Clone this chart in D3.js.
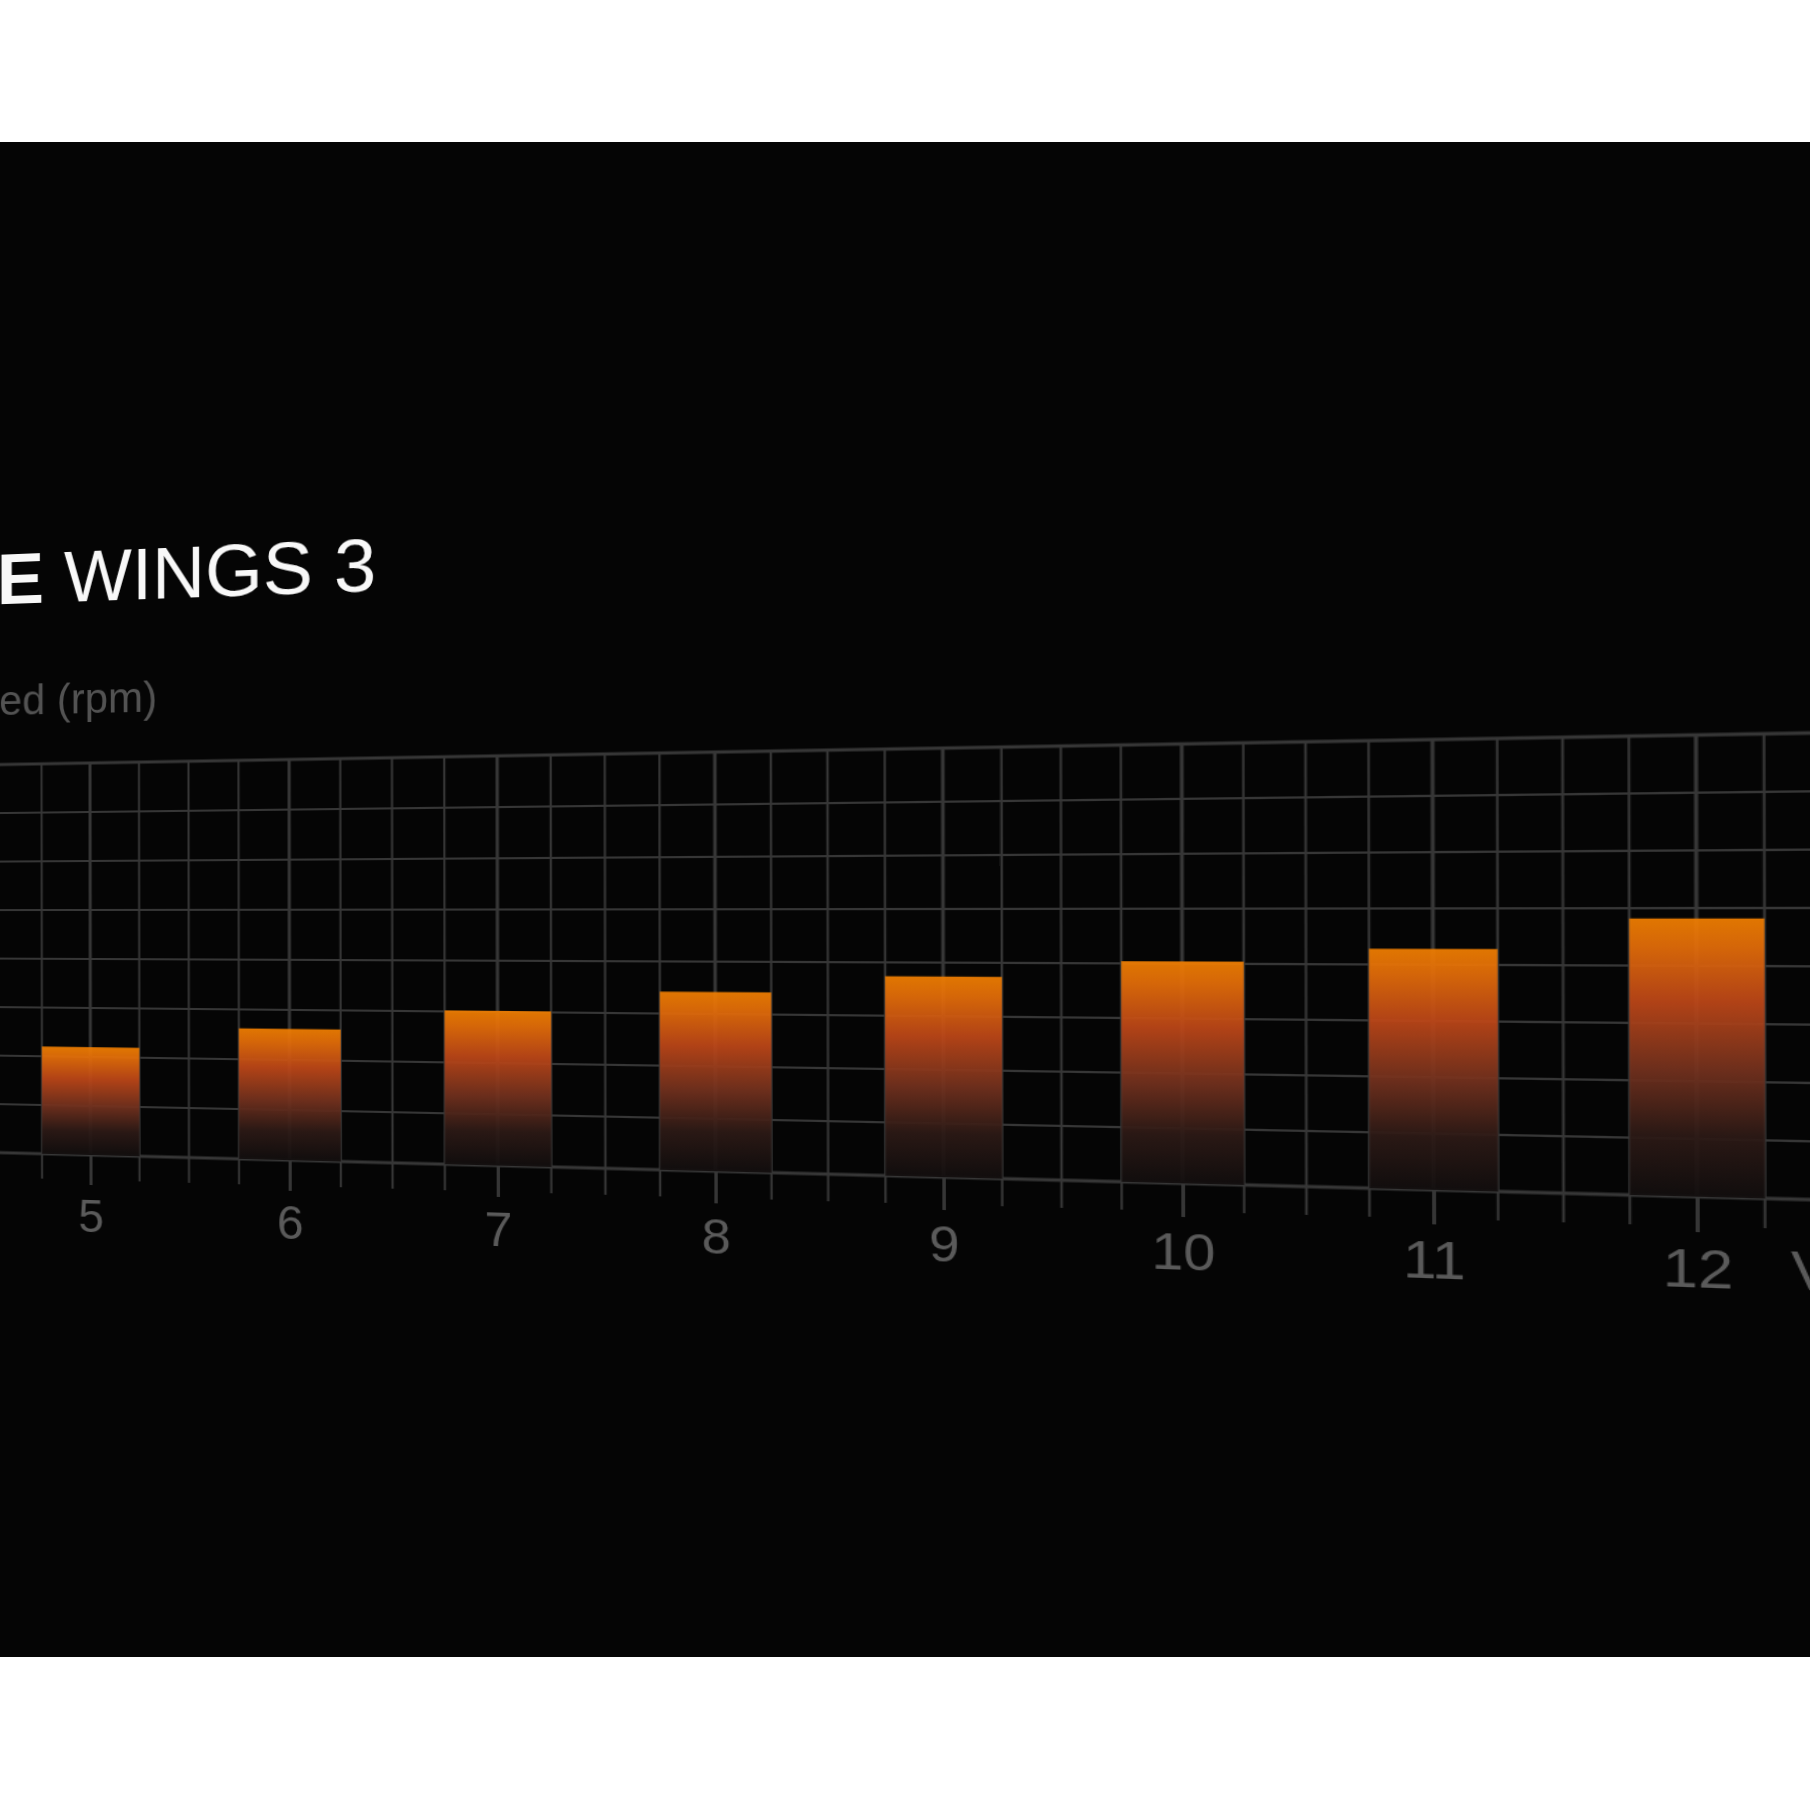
<!DOCTYPE html>
<html><head><meta charset="utf-8">
<script src="https://cdn.jsdelivr.net/npm/d3@7"></script>
<style>
html,body{margin:0;padding:0;background:#fff;width:1810px;height:1810px;overflow:hidden}
#bg{position:absolute;left:0;top:142px;width:1810px;height:1515px;background:#050505}
#plane{position:absolute;left:0;top:0;width:2000px;height:1400px;transform-origin:0 0}
svg text{font-family:"Liberation Sans",Arial,Helvetica,sans-serif}
</style></head><body>
<div id="bg"></div>
<div id="plane"></div>
<script>
// ---- data ----
const categories = [5, 6, 7, 8, 9, 10, 11, 12];
const xLabels = ["5", "6", "7", "8", "9", "10", "11", "12"];
const rpmValues = [110, 131, 151, 171, 187, 202, 214, 241];
const yTicks = [0, 50, 100, 150, 200, 250, 300, 350, 400];
const titleBold = "E";
const titleRest = " WINGS 3";
const subtitle = "ed (rpm)";
const xAxisTitle = "V";

// ---- flat chart scales ----
const xScale = d3.scaleLinear().domain([5, 12]).range([190, 1555]);
const yScale = d3.scaleLinear().domain([0, 400]).range([1155, 763]);
const gridExtent = [4.5, 12.5];

const svg = d3.select("#plane").append("svg")
  .attr("width", 2000).attr("height", 1400)
  .style("overflow", "visible");

const defs = svg.append("defs");
const grad = defs.append("linearGradient").attr("id", "barGrad")
  .attr("x1", 0).attr("y1", 0).attr("x2", 0).attr("y2", 1);
[[0, "#f07e00"], [0.1, "#e46d08"], [0.3, "#bd4617"], [0.55, "#72301d"], [0.78, "#2c1915"], [1, "#110d0d"]]
  .forEach(([o, c]) => grad.append("stop").attr("offset", o).attr("stop-color", c));

const gridColor = "#363636";
// horizontal grid lines
svg.append("g").selectAll("line").data(yTicks).join("line")
  .attr("x1", xScale(gridExtent[0])).attr("x2", xScale(gridExtent[1]))
  .attr("y1", d => yScale(d)).attr("y2", d => yScale(d))
  .attr("stroke", gridColor)
  .attr("stroke-width", d => (d === 0 || d === 400) ? 3 : 2);

// vertical grid lines (quarter steps)
const steps = d3.range(gridExtent[0], gridExtent[1] + 0.001, 0.25);
svg.append("g").selectAll("line").data(steps).join("line")
  .attr("x1", d => xScale(d)).attr("x2", d => xScale(d))
  .attr("y1", yScale(400))
  .attr("y2", d => Number.isInteger(d) ? yScale(0) : yScale(0) + 25)
  .attr("stroke", gridColor)
  .attr("stroke-width", d => Number.isInteger(d) ? 3 : 2);

// bars
svg.append("g").selectAll("rect").data(categories).join("rect")
  .attr("x", d => xScale(d - 0.25))
  .attr("width", d => xScale(d + 0.25) - xScale(d - 0.25))
  .attr("y", (d, i) => yScale(rpmValues[i]))
  .attr("height", (d, i) => yScale(0) - yScale(rpmValues[i]))
  .attr("fill", "url(#barGrad)")
  .attr("fill-opacity", 0.93);

// x axis
const axis = svg.append("g").attr("transform", `translate(0,${yScale(0)})`)
  .call(d3.axisBottom(xScale).tickValues(categories).tickSize(30).tickPadding(14)
    .tickFormat((d, i) => xLabels[i]));
axis.select(".domain").remove();
axis.selectAll(".tick line").attr("stroke", gridColor).attr("stroke-width", 3);
axis.selectAll(".tick text").attr("fill", "#5a5a5a").attr("font-size", 46)
  .style("font-family", "'Liberation Sans', Arial, sans-serif");

svg.append("text").attr("x", 1622).attr("y", 1231)
  .attr("fill", "#5a5a5a").attr("font-size", 46).text(xAxisTitle);

// title + subtitle
const t = svg.append("text").attr("x", 96).attr("y", 601)
  .attr("fill", "#f8f8f8").attr("font-size", 72);
t.append("tspan").attr("font-weight", 700).text(titleBold);
t.append("tspan").attr("font-weight", 400).text(titleRest);

svg.append("text").attr("x", 257).attr("y", 713).attr("text-anchor", "end")
  .attr("fill", "#525252").attr("font-size", 42).text(subtitle);

// ---- perspective (homography) from flat chart plane to screen ----
const src = [[xScale(5), yScale(0)], [xScale(5), yScale(400)], [xScale(12), yScale(0)], [xScale(12), yScale(400)]];
const dst = [[90.5, 1155], [90, 763], [1697, 1196.7], [1696, 735]];
function solve(A, b) {
  const n = b.length;
  const M = A.map((r, i) => r.concat([b[i]]));
  for (let c = 0; c < n; c++) {
    let p = c;
    for (let r = c + 1; r < n; r++) if (Math.abs(M[r][c]) > Math.abs(M[p][c])) p = r;
    [M[c], M[p]] = [M[p], M[c]];
    for (let r = 0; r < n; r++) {
      if (r === c) continue;
      const f = M[r][c] / M[c][c];
      for (let k = c; k <= n; k++) M[r][k] -= f * M[c][k];
    }
  }
  return M.map((r, i) => r[n] / r[i]);
}
const A = [], B = [];
for (let i = 0; i < 4; i++) {
  const [X, Y] = src[i], [x, y] = dst[i];
  A.push([X, Y, 1, 0, 0, 0, -X * x, -Y * x]); B.push(x);
  A.push([0, 0, 0, X, Y, 1, -X * y, -Y * y]); B.push(y);
}
const [a, b, c, d, e, f, g, h] = solve(A, B);
document.getElementById("plane").style.transform =
  `matrix3d(${a},${d},0,${g},${b},${e},0,${h},0,0,1,0,${c},${f},0,1)`;
</script>
</body></html>
